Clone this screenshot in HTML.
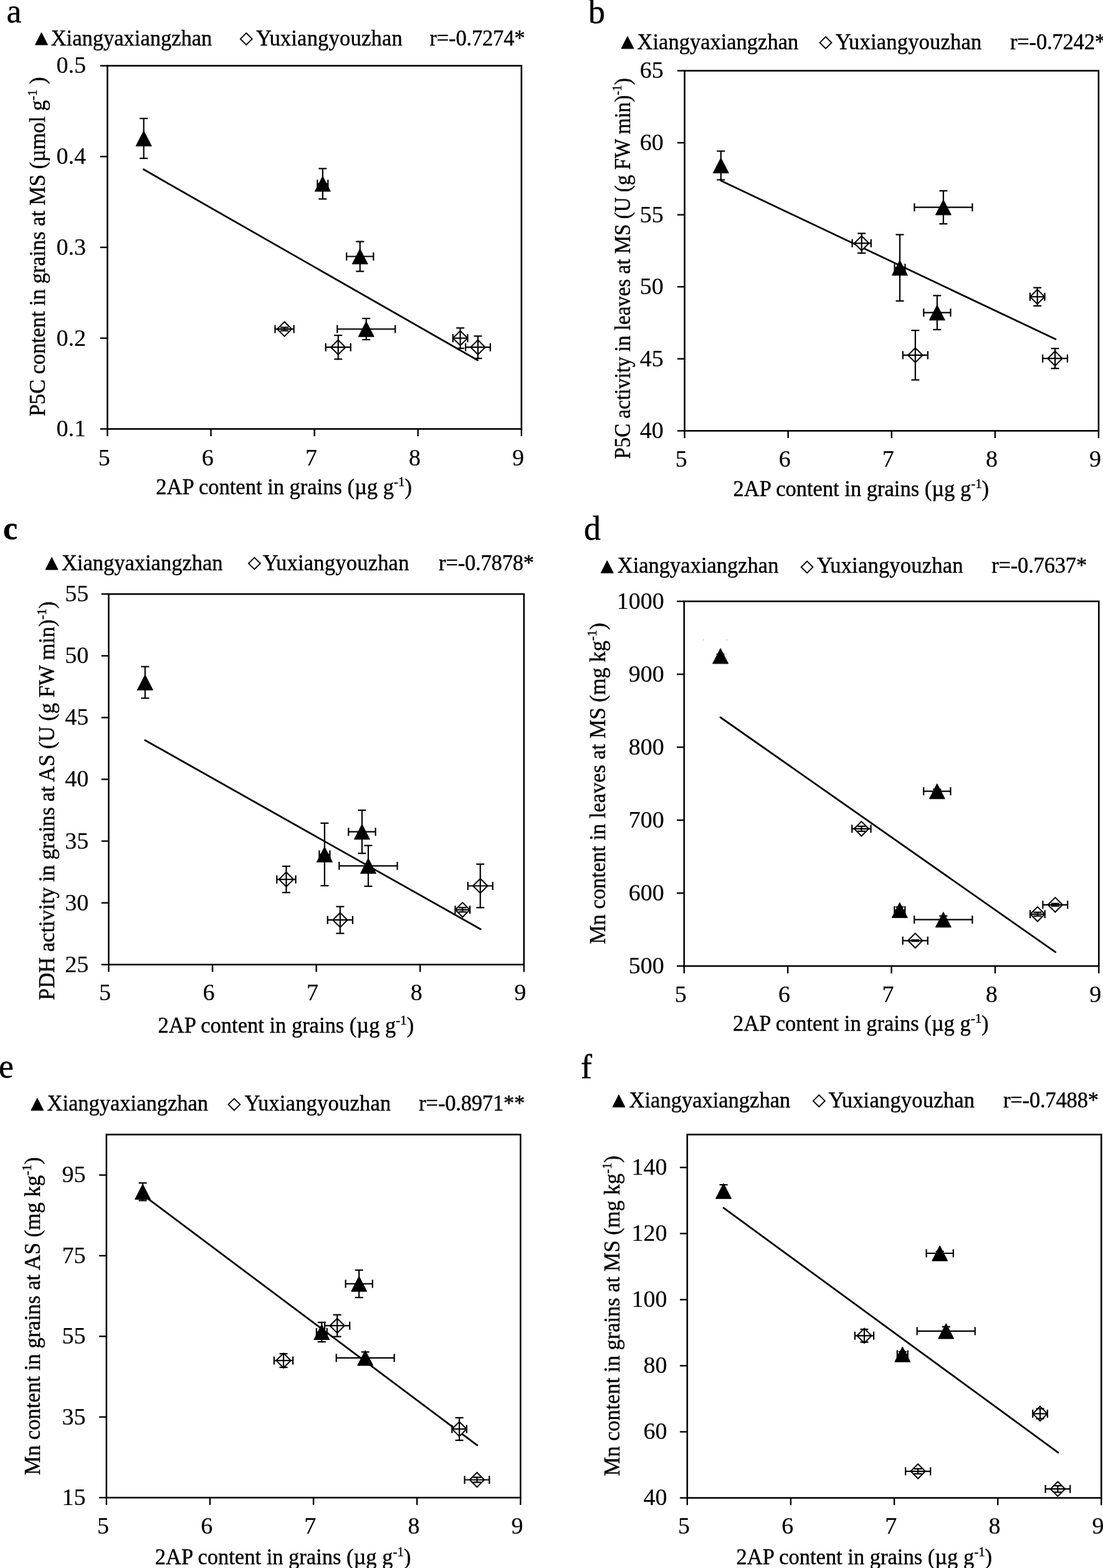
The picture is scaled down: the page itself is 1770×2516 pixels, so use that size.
<!DOCTYPE html>
<html lang="en">
<head>
<meta charset="utf-8">
<title>Correlation of 2AP content in grains with P5C, PDH and Mn</title>
<style>
html, body { margin: 0; padding: 0; background: #ffffff; }
body { width: 1770px; height: 2516px; overflow: hidden; }
svg { display: block; }
svg text { font-family: 'Liberation Serif', 'DejaVu Serif', serif; fill: #000; stroke: #000; stroke-width: 0.45px; stroke-linejoin: round; }
svg text.tk { stroke-width: 0.2px; }
svg line { stroke: #000; }
svg .frame { fill: none; stroke: #000; }
svg .tri { fill: #000; stroke: #000; stroke-width: 1; stroke-linejoin: round; }
svg .dia { fill: #fff; stroke: #000; stroke-linejoin: miter; }
</style>
</head>
<body>
<svg width="1770" height="2516" viewBox="0 0 1770 2516" role="img" aria-label="Relationships between grain 2AP content and P5C, PDH and Mn">
<g id="panel-a">
<rect class="frame" x="172.4" y="105.5" width="664.4" height="582.8" stroke-width="2.6"/>
<line x1="160.7" y1="105.5" x2="172.4" y2="105.5" stroke-width="2.4" stroke-linecap="butt"/>
<text x="138" y="117.4" font-size="38" text-anchor="end" class="tk">0.5</text>
<line x1="160.7" y1="251.2" x2="172.4" y2="251.2" stroke-width="2.4" stroke-linecap="butt"/>
<text x="138" y="263.1" font-size="38" text-anchor="end" class="tk">0.4</text>
<line x1="160.7" y1="396.9" x2="172.4" y2="396.9" stroke-width="2.4" stroke-linecap="butt"/>
<text x="138" y="408.8" font-size="38" text-anchor="end" class="tk">0.3</text>
<line x1="160.7" y1="542.6" x2="172.4" y2="542.6" stroke-width="2.4" stroke-linecap="butt"/>
<text x="138" y="554.5" font-size="38" text-anchor="end" class="tk">0.2</text>
<line x1="160.7" y1="688.3" x2="172.4" y2="688.3" stroke-width="2.4" stroke-linecap="butt"/>
<text x="138" y="700.2" font-size="38" text-anchor="end" class="tk">0.1</text>
<line x1="172.4" y1="688.3" x2="172.4" y2="700" stroke-width="2.4" stroke-linecap="butt"/>
<text x="167.2" y="746.7" font-size="38" text-anchor="middle" class="tk">5</text>
<line x1="338.5" y1="688.3" x2="338.5" y2="700" stroke-width="2.4" stroke-linecap="butt"/>
<text x="333.3" y="746.7" font-size="38" text-anchor="middle" class="tk">6</text>
<line x1="504.6" y1="688.3" x2="504.6" y2="700" stroke-width="2.4" stroke-linecap="butt"/>
<text x="499.4" y="746.7" font-size="38" text-anchor="middle" class="tk">7</text>
<line x1="670.7" y1="688.3" x2="670.7" y2="700" stroke-width="2.4" stroke-linecap="butt"/>
<text x="665.5" y="746.7" font-size="38" text-anchor="middle" class="tk">8</text>
<line x1="836.8" y1="688.3" x2="836.8" y2="700" stroke-width="2.4" stroke-linecap="butt"/>
<text x="831.6" y="746.7" font-size="38" text-anchor="middle" class="tk">9</text>
<text transform="translate(250.3 793) scale(0.9691 1)" font-size="35.6" xml:space="preserve">2AP content in grains (µg g<tspan font-size="21.6" dy="-13.4">-1</tspan><tspan dy="13.4">)</tspan></text>
<text transform="translate(72.4 668) rotate(-90) scale(0.9645 1)" font-size="35.6" xml:space="preserve">P5C content in grains at MS (µmol g<tspan font-size="21.6" dy="-13.4">-1</tspan><tspan dy="13.4"> )</tspan></text>
<line x1="230.4" y1="271.8" x2="766.5" y2="578" stroke-width="2.8" stroke-linecap="round"/>
<polygon class="dia" stroke-width="2" points="456.51,516.3 468.21,528 456.51,539.7 444.81,528"/>
<line x1="456.51" y1="525.3" x2="456.51" y2="530.7" stroke-width="2.2" stroke-linecap="butt"/>
<line x1="450.01" y1="525.3" x2="463.01" y2="525.3" stroke-width="2.2" stroke-linecap="butt"/>
<line x1="450.01" y1="530.7" x2="463.01" y2="530.7" stroke-width="2.2" stroke-linecap="butt"/>
<line x1="441.4" y1="528" x2="471.63" y2="528" stroke-width="2.2" stroke-linecap="butt"/>
<line x1="441.4" y1="521.5" x2="441.4" y2="534.5" stroke-width="2.2" stroke-linecap="butt"/>
<line x1="471.63" y1="521.5" x2="471.63" y2="534.5" stroke-width="2.2" stroke-linecap="butt"/>
<polygon class="dia" stroke-width="2" points="542.69,545.5 554.39,557.2 542.69,568.9 530.99,557.2"/>
<line x1="542.69" y1="538.1" x2="542.69" y2="576.3" stroke-width="2.2" stroke-linecap="butt"/>
<line x1="536.19" y1="538.1" x2="549.19" y2="538.1" stroke-width="2.2" stroke-linecap="butt"/>
<line x1="536.19" y1="576.3" x2="549.19" y2="576.3" stroke-width="2.2" stroke-linecap="butt"/>
<line x1="522.67" y1="557.2" x2="562.7" y2="557.2" stroke-width="2.2" stroke-linecap="butt"/>
<line x1="522.67" y1="550.7" x2="522.67" y2="563.7" stroke-width="2.2" stroke-linecap="butt"/>
<line x1="562.7" y1="550.7" x2="562.7" y2="563.7" stroke-width="2.2" stroke-linecap="butt"/>
<polygon class="dia" stroke-width="2" points="738.59,530.9 750.29,542.6 738.59,554.3 726.89,542.6"/>
<line x1="738.59" y1="526.3" x2="738.59" y2="558.9" stroke-width="2.2" stroke-linecap="butt"/>
<line x1="732.09" y1="526.3" x2="745.09" y2="526.3" stroke-width="2.2" stroke-linecap="butt"/>
<line x1="732.09" y1="558.9" x2="745.09" y2="558.9" stroke-width="2.2" stroke-linecap="butt"/>
<line x1="726.79" y1="542.6" x2="750.38" y2="542.6" stroke-width="2.2" stroke-linecap="butt"/>
<line x1="726.79" y1="536.1" x2="726.79" y2="549.1" stroke-width="2.2" stroke-linecap="butt"/>
<line x1="750.38" y1="536.1" x2="750.38" y2="549.1" stroke-width="2.2" stroke-linecap="butt"/>
<polygon class="dia" stroke-width="2" points="766.94,545.5 778.64,557.2 766.94,568.9 755.24,557.2"/>
<line x1="766.94" y1="539.3" x2="766.94" y2="575.1" stroke-width="2.2" stroke-linecap="butt"/>
<line x1="760.44" y1="539.3" x2="773.44" y2="539.3" stroke-width="2.2" stroke-linecap="butt"/>
<line x1="760.44" y1="575.1" x2="773.44" y2="575.1" stroke-width="2.2" stroke-linecap="butt"/>
<line x1="747.09" y1="557.2" x2="786.79" y2="557.2" stroke-width="2.2" stroke-linecap="butt"/>
<line x1="747.09" y1="550.7" x2="747.09" y2="563.7" stroke-width="2.2" stroke-linecap="butt"/>
<line x1="786.79" y1="550.7" x2="786.79" y2="563.7" stroke-width="2.2" stroke-linecap="butt"/>
<line x1="230.65" y1="190.1" x2="230.65" y2="254.1" stroke-width="2.2" stroke-linecap="butt"/>
<line x1="224.15" y1="190.1" x2="237.15" y2="190.1" stroke-width="2.2" stroke-linecap="butt"/>
<line x1="224.15" y1="254.1" x2="237.15" y2="254.1" stroke-width="2.2" stroke-linecap="butt"/>
<polygon class="tri" points="230.65,209.95 243.15,234.25 218.15,234.25"/>
<line x1="517.82" y1="270.5" x2="517.82" y2="319.3" stroke-width="2.2" stroke-linecap="butt"/>
<line x1="511.32" y1="270.5" x2="524.32" y2="270.5" stroke-width="2.2" stroke-linecap="butt"/>
<line x1="511.32" y1="319.3" x2="524.32" y2="319.3" stroke-width="2.2" stroke-linecap="butt"/>
<line x1="509.35" y1="294.9" x2="526.29" y2="294.9" stroke-width="2.2" stroke-linecap="butt"/>
<line x1="509.35" y1="288.4" x2="509.35" y2="301.4" stroke-width="2.2" stroke-linecap="butt"/>
<line x1="526.29" y1="288.4" x2="526.29" y2="301.4" stroke-width="2.2" stroke-linecap="butt"/>
<polygon class="tri" points="517.82,282.75 530.32,307.05 505.32,307.05"/>
<line x1="577.7" y1="387.6" x2="577.7" y2="435.4" stroke-width="2.2" stroke-linecap="butt"/>
<line x1="571.2" y1="387.6" x2="584.2" y2="387.6" stroke-width="2.2" stroke-linecap="butt"/>
<line x1="571.2" y1="435.4" x2="584.2" y2="435.4" stroke-width="2.2" stroke-linecap="butt"/>
<line x1="556.11" y1="411.5" x2="599.29" y2="411.5" stroke-width="2.2" stroke-linecap="butt"/>
<line x1="556.11" y1="405" x2="556.11" y2="418" stroke-width="2.2" stroke-linecap="butt"/>
<line x1="599.29" y1="405" x2="599.29" y2="418" stroke-width="2.2" stroke-linecap="butt"/>
<polygon class="tri" points="577.7,399.35 590.2,423.65 565.2,423.65"/>
<line x1="587.7" y1="511" x2="587.7" y2="545" stroke-width="2.2" stroke-linecap="butt"/>
<line x1="581.2" y1="511" x2="594.2" y2="511" stroke-width="2.2" stroke-linecap="butt"/>
<line x1="581.2" y1="545" x2="594.2" y2="545" stroke-width="2.2" stroke-linecap="butt"/>
<line x1="541.19" y1="528" x2="634.21" y2="528" stroke-width="2.2" stroke-linecap="butt"/>
<line x1="541.19" y1="521.5" x2="541.19" y2="534.5" stroke-width="2.2" stroke-linecap="butt"/>
<line x1="634.21" y1="521.5" x2="634.21" y2="534.5" stroke-width="2.2" stroke-linecap="butt"/>
<polygon class="tri" points="587.7,515.85 600.2,540.15 575.2,540.15"/>
<polygon class="tri" points="66.5,52.25 76.45,71.95 56.55,71.95"/>
<text transform="translate(81.7 73.3) scale(0.9691 1)" font-size="35.6" text-anchor="start">Xiangyaxiangzhan</text>
<polygon class="dia" stroke-width="1.9" points="395.2,53 404.6,62.4 395.2,71.8 385.8,62.4"/>
<text transform="translate(411.1 73.3) scale(0.9691 1)" font-size="35.6" text-anchor="start" letter-spacing="0.22">Yuxiangyouzhan</text>
<text transform="translate(689.5 73.3) scale(0.9691 1)" font-size="35.6" text-anchor="start" letter-spacing="-0.18">r=-0.7274*</text>
<text x="10.5" y="36.2" font-size="54" text-anchor="start" stroke-width="0.3">a</text>
</g>
<g id="panel-b">
<rect class="frame" x="1098.6" y="113.5" width="664.3" height="577.8" stroke-width="2.6"/>
<line x1="1086.9" y1="113.5" x2="1098.6" y2="113.5" stroke-width="2.4" stroke-linecap="butt"/>
<text x="1064.8" y="125.4" font-size="38" text-anchor="end" class="tk">65</text>
<line x1="1086.9" y1="229.06" x2="1098.6" y2="229.06" stroke-width="2.4" stroke-linecap="butt"/>
<text x="1064.8" y="240.96" font-size="38" text-anchor="end" class="tk">60</text>
<line x1="1086.9" y1="344.62" x2="1098.6" y2="344.62" stroke-width="2.4" stroke-linecap="butt"/>
<text x="1064.8" y="356.52" font-size="38" text-anchor="end" class="tk">55</text>
<line x1="1086.9" y1="460.18" x2="1098.6" y2="460.18" stroke-width="2.4" stroke-linecap="butt"/>
<text x="1064.8" y="472.08" font-size="38" text-anchor="end" class="tk">50</text>
<line x1="1086.9" y1="575.74" x2="1098.6" y2="575.74" stroke-width="2.4" stroke-linecap="butt"/>
<text x="1064.8" y="587.64" font-size="38" text-anchor="end" class="tk">45</text>
<line x1="1086.9" y1="691.3" x2="1098.6" y2="691.3" stroke-width="2.4" stroke-linecap="butt"/>
<text x="1064.8" y="703.2" font-size="38" text-anchor="end" class="tk">40</text>
<line x1="1098.6" y1="691.3" x2="1098.6" y2="703" stroke-width="2.4" stroke-linecap="butt"/>
<text x="1093.2" y="748.5" font-size="38" text-anchor="middle" class="tk">5</text>
<line x1="1264.67" y1="691.3" x2="1264.67" y2="703" stroke-width="2.4" stroke-linecap="butt"/>
<text x="1259.27" y="748.5" font-size="38" text-anchor="middle" class="tk">6</text>
<line x1="1430.75" y1="691.3" x2="1430.75" y2="703" stroke-width="2.4" stroke-linecap="butt"/>
<text x="1425.35" y="748.5" font-size="38" text-anchor="middle" class="tk">7</text>
<line x1="1596.83" y1="691.3" x2="1596.83" y2="703" stroke-width="2.4" stroke-linecap="butt"/>
<text x="1591.42" y="748.5" font-size="38" text-anchor="middle" class="tk">8</text>
<line x1="1762.9" y1="691.3" x2="1762.9" y2="703" stroke-width="2.4" stroke-linecap="butt"/>
<text x="1757.5" y="748.5" font-size="38" text-anchor="middle" class="tk">9</text>
<text transform="translate(1176.5 796.2) scale(0.9691 1)" font-size="35.6" xml:space="preserve">2AP content in grains (µg g<tspan font-size="21.6" dy="-13.4">-1</tspan><tspan dy="13.4">)</tspan></text>
<text transform="translate(1010.5 736.6) rotate(-90) scale(0.9282 1)" font-size="35.6" xml:space="preserve">P5C activity in leaves at MS (U (g FW min)<tspan font-size="21.6" dy="-13.4">-1</tspan><tspan dy="13.4">)</tspan></text>
<line x1="1157" y1="290" x2="1693.9" y2="544.3" stroke-width="2.8" stroke-linecap="round"/>
<polygon class="dia" stroke-width="2" points="1382.67,378.6 1394.37,390.3 1382.67,402 1370.97,390.3"/>
<line x1="1382.67" y1="374.5" x2="1382.67" y2="406.1" stroke-width="2.2" stroke-linecap="butt"/>
<line x1="1376.17" y1="374.5" x2="1389.17" y2="374.5" stroke-width="2.2" stroke-linecap="butt"/>
<line x1="1376.17" y1="406.1" x2="1389.17" y2="406.1" stroke-width="2.2" stroke-linecap="butt"/>
<line x1="1367.56" y1="390.3" x2="1397.78" y2="390.3" stroke-width="2.2" stroke-linecap="butt"/>
<line x1="1367.56" y1="383.8" x2="1367.56" y2="396.8" stroke-width="2.2" stroke-linecap="butt"/>
<line x1="1397.78" y1="383.8" x2="1397.78" y2="396.8" stroke-width="2.2" stroke-linecap="butt"/>
<polygon class="dia" stroke-width="2" points="1468.83,558.2 1480.53,569.9 1468.83,581.6 1457.13,569.9"/>
<line x1="1468.83" y1="530.2" x2="1468.83" y2="609.6" stroke-width="2.2" stroke-linecap="butt"/>
<line x1="1462.33" y1="530.2" x2="1475.33" y2="530.2" stroke-width="2.2" stroke-linecap="butt"/>
<line x1="1462.33" y1="609.6" x2="1475.33" y2="609.6" stroke-width="2.2" stroke-linecap="butt"/>
<line x1="1448.82" y1="569.9" x2="1488.84" y2="569.9" stroke-width="2.2" stroke-linecap="butt"/>
<line x1="1448.82" y1="563.4" x2="1448.82" y2="576.4" stroke-width="2.2" stroke-linecap="butt"/>
<line x1="1488.84" y1="563.4" x2="1488.84" y2="576.4" stroke-width="2.2" stroke-linecap="butt"/>
<polygon class="dia" stroke-width="2" points="1664.7,464.5 1676.4,476.2 1664.7,487.9 1653,476.2"/>
<line x1="1664.7" y1="461.6" x2="1664.7" y2="490.8" stroke-width="2.2" stroke-linecap="butt"/>
<line x1="1658.2" y1="461.6" x2="1671.2" y2="461.6" stroke-width="2.2" stroke-linecap="butt"/>
<line x1="1658.2" y1="490.8" x2="1671.2" y2="490.8" stroke-width="2.2" stroke-linecap="butt"/>
<line x1="1652.91" y1="476.2" x2="1676.49" y2="476.2" stroke-width="2.2" stroke-linecap="butt"/>
<line x1="1652.91" y1="469.7" x2="1652.91" y2="482.7" stroke-width="2.2" stroke-linecap="butt"/>
<line x1="1676.49" y1="469.7" x2="1676.49" y2="482.7" stroke-width="2.2" stroke-linecap="butt"/>
<polygon class="dia" stroke-width="2" points="1693.05,563.5 1704.75,575.2 1693.05,586.9 1681.35,575.2"/>
<line x1="1693.05" y1="559.2" x2="1693.05" y2="591.2" stroke-width="2.2" stroke-linecap="butt"/>
<line x1="1686.55" y1="559.2" x2="1699.55" y2="559.2" stroke-width="2.2" stroke-linecap="butt"/>
<line x1="1686.55" y1="591.2" x2="1699.55" y2="591.2" stroke-width="2.2" stroke-linecap="butt"/>
<line x1="1673.2" y1="575.2" x2="1712.89" y2="575.2" stroke-width="2.2" stroke-linecap="butt"/>
<line x1="1673.2" y1="568.7" x2="1673.2" y2="581.7" stroke-width="2.2" stroke-linecap="butt"/>
<line x1="1712.89" y1="568.7" x2="1712.89" y2="581.7" stroke-width="2.2" stroke-linecap="butt"/>
<line x1="1156.84" y1="242.5" x2="1156.84" y2="288.5" stroke-width="2.2" stroke-linecap="butt"/>
<line x1="1150.34" y1="242.5" x2="1163.34" y2="242.5" stroke-width="2.2" stroke-linecap="butt"/>
<line x1="1150.34" y1="288.5" x2="1163.34" y2="288.5" stroke-width="2.2" stroke-linecap="butt"/>
<polygon class="tri" points="1156.84,253.35 1169.34,277.65 1144.34,277.65"/>
<line x1="1443.97" y1="376.5" x2="1443.97" y2="482.9" stroke-width="2.2" stroke-linecap="butt"/>
<line x1="1437.47" y1="376.5" x2="1450.47" y2="376.5" stroke-width="2.2" stroke-linecap="butt"/>
<line x1="1437.47" y1="482.9" x2="1450.47" y2="482.9" stroke-width="2.2" stroke-linecap="butt"/>
<line x1="1435.5" y1="429.7" x2="1452.44" y2="429.7" stroke-width="2.2" stroke-linecap="butt"/>
<line x1="1435.5" y1="423.2" x2="1435.5" y2="436.2" stroke-width="2.2" stroke-linecap="butt"/>
<line x1="1452.44" y1="423.2" x2="1452.44" y2="436.2" stroke-width="2.2" stroke-linecap="butt"/>
<polygon class="tri" points="1443.97,417.55 1456.47,441.85 1431.47,441.85"/>
<line x1="1503.84" y1="474.3" x2="1503.84" y2="528.9" stroke-width="2.2" stroke-linecap="butt"/>
<line x1="1497.34" y1="474.3" x2="1510.34" y2="474.3" stroke-width="2.2" stroke-linecap="butt"/>
<line x1="1497.34" y1="528.9" x2="1510.34" y2="528.9" stroke-width="2.2" stroke-linecap="butt"/>
<line x1="1482.25" y1="501.6" x2="1525.43" y2="501.6" stroke-width="2.2" stroke-linecap="butt"/>
<line x1="1482.25" y1="495.1" x2="1482.25" y2="508.1" stroke-width="2.2" stroke-linecap="butt"/>
<line x1="1525.43" y1="495.1" x2="1525.43" y2="508.1" stroke-width="2.2" stroke-linecap="butt"/>
<polygon class="tri" points="1503.84,489.45 1516.34,513.75 1491.34,513.75"/>
<line x1="1513.84" y1="306.2" x2="1513.84" y2="359.2" stroke-width="2.2" stroke-linecap="butt"/>
<line x1="1507.34" y1="306.2" x2="1520.34" y2="306.2" stroke-width="2.2" stroke-linecap="butt"/>
<line x1="1507.34" y1="359.2" x2="1520.34" y2="359.2" stroke-width="2.2" stroke-linecap="butt"/>
<line x1="1467.34" y1="332.7" x2="1560.34" y2="332.7" stroke-width="2.2" stroke-linecap="butt"/>
<line x1="1467.34" y1="326.2" x2="1467.34" y2="339.2" stroke-width="2.2" stroke-linecap="butt"/>
<line x1="1560.34" y1="326.2" x2="1560.34" y2="339.2" stroke-width="2.2" stroke-linecap="butt"/>
<polygon class="tri" points="1513.84,320.55 1526.34,344.85 1501.34,344.85"/>
<polygon class="tri" points="1007,58.25 1016.95,77.95 997.05,77.95"/>
<text transform="translate(1022.6 78.8) scale(0.9691 1)" font-size="35.6" text-anchor="start">Xiangyaxiangzhan</text>
<polygon class="dia" stroke-width="1.9" points="1325,59 1334.4,68.4 1325,77.8 1315.6,68.4"/>
<text transform="translate(1340.7 78.8) scale(0.9691 1)" font-size="35.6" text-anchor="start" letter-spacing="0.22">Yuxiangyouzhan</text>
<text transform="translate(1621 78.8) scale(0.9691 1)" font-size="35.6" text-anchor="start" letter-spacing="-0.18">r=-0.7242*</text>
<text x="944" y="36.5" font-size="54" text-anchor="start" stroke-width="0.3">b</text>
</g>
<g id="panel-c">
<rect class="frame" x="174.4" y="953.2" width="666.4" height="594.6" stroke-width="2.6"/>
<line x1="162.7" y1="953.2" x2="174.4" y2="953.2" stroke-width="2.4" stroke-linecap="butt"/>
<text x="142.2" y="965.1" font-size="38" text-anchor="end" class="tk">55</text>
<line x1="162.7" y1="1052.3" x2="174.4" y2="1052.3" stroke-width="2.4" stroke-linecap="butt"/>
<text x="142.2" y="1064.2" font-size="38" text-anchor="end" class="tk">50</text>
<line x1="162.7" y1="1151.4" x2="174.4" y2="1151.4" stroke-width="2.4" stroke-linecap="butt"/>
<text x="142.2" y="1163.3" font-size="38" text-anchor="end" class="tk">45</text>
<line x1="162.7" y1="1250.5" x2="174.4" y2="1250.5" stroke-width="2.4" stroke-linecap="butt"/>
<text x="142.2" y="1262.4" font-size="38" text-anchor="end" class="tk">40</text>
<line x1="162.7" y1="1349.6" x2="174.4" y2="1349.6" stroke-width="2.4" stroke-linecap="butt"/>
<text x="142.2" y="1361.5" font-size="38" text-anchor="end" class="tk">35</text>
<line x1="162.7" y1="1448.7" x2="174.4" y2="1448.7" stroke-width="2.4" stroke-linecap="butt"/>
<text x="142.2" y="1460.6" font-size="38" text-anchor="end" class="tk">30</text>
<line x1="162.7" y1="1547.8" x2="174.4" y2="1547.8" stroke-width="2.4" stroke-linecap="butt"/>
<text x="142.2" y="1559.7" font-size="38" text-anchor="end" class="tk">25</text>
<line x1="174.4" y1="1547.8" x2="174.4" y2="1559.5" stroke-width="2.4" stroke-linecap="butt"/>
<text x="168.4" y="1604.9" font-size="38" text-anchor="middle" class="tk">5</text>
<line x1="341" y1="1547.8" x2="341" y2="1559.5" stroke-width="2.4" stroke-linecap="butt"/>
<text x="335" y="1604.9" font-size="38" text-anchor="middle" class="tk">6</text>
<line x1="507.6" y1="1547.8" x2="507.6" y2="1559.5" stroke-width="2.4" stroke-linecap="butt"/>
<text x="501.6" y="1604.9" font-size="38" text-anchor="middle" class="tk">7</text>
<line x1="674.2" y1="1547.8" x2="674.2" y2="1559.5" stroke-width="2.4" stroke-linecap="butt"/>
<text x="668.2" y="1604.9" font-size="38" text-anchor="middle" class="tk">8</text>
<line x1="840.8" y1="1547.8" x2="840.8" y2="1559.5" stroke-width="2.4" stroke-linecap="butt"/>
<text x="834.8" y="1604.9" font-size="38" text-anchor="middle" class="tk">9</text>
<text transform="translate(253.6 1657.2) scale(0.9691 1)" font-size="35.6" xml:space="preserve">2AP content in grains (µg g<tspan font-size="21.6" dy="-13.4">-1</tspan><tspan dy="13.4">)</tspan></text>
<text transform="translate(87.3 1605.1) rotate(-90) scale(0.9717 1)" font-size="35.6" xml:space="preserve">PDH activity in grains at AS (U (g FW min)<tspan font-size="21.6" dy="-13.4">-1</tspan><tspan dy="13.4">)</tspan></text>
<line x1="232.7" y1="1187.7" x2="771.2" y2="1491" stroke-width="2.8" stroke-linecap="round"/>
<polygon class="dia" stroke-width="2" points="459.37,1399.4 471.07,1411.1 459.37,1422.8 447.67,1411.1"/>
<line x1="459.37" y1="1390" x2="459.37" y2="1432.2" stroke-width="2.2" stroke-linecap="butt"/>
<line x1="452.87" y1="1390" x2="465.87" y2="1390" stroke-width="2.2" stroke-linecap="butt"/>
<line x1="452.87" y1="1432.2" x2="465.87" y2="1432.2" stroke-width="2.2" stroke-linecap="butt"/>
<line x1="444.21" y1="1411.1" x2="474.53" y2="1411.1" stroke-width="2.2" stroke-linecap="butt"/>
<line x1="444.21" y1="1404.6" x2="444.21" y2="1417.6" stroke-width="2.2" stroke-linecap="butt"/>
<line x1="474.53" y1="1404.6" x2="474.53" y2="1417.6" stroke-width="2.2" stroke-linecap="butt"/>
<polygon class="dia" stroke-width="2" points="545.8,1464.5 557.5,1476.2 545.8,1487.9 534.1,1476.2"/>
<line x1="545.8" y1="1454.7" x2="545.8" y2="1497.7" stroke-width="2.2" stroke-linecap="butt"/>
<line x1="539.3" y1="1454.7" x2="552.3" y2="1454.7" stroke-width="2.2" stroke-linecap="butt"/>
<line x1="539.3" y1="1497.7" x2="552.3" y2="1497.7" stroke-width="2.2" stroke-linecap="butt"/>
<line x1="525.73" y1="1476.2" x2="565.88" y2="1476.2" stroke-width="2.2" stroke-linecap="butt"/>
<line x1="525.73" y1="1469.7" x2="525.73" y2="1482.7" stroke-width="2.2" stroke-linecap="butt"/>
<line x1="565.88" y1="1469.7" x2="565.88" y2="1482.7" stroke-width="2.2" stroke-linecap="butt"/>
<polygon class="dia" stroke-width="2" points="742.29,1448.1 753.99,1459.8 742.29,1471.5 730.59,1459.8"/>
<line x1="742.29" y1="1456.3" x2="742.29" y2="1463.3" stroke-width="2.2" stroke-linecap="butt"/>
<line x1="735.79" y1="1456.3" x2="748.79" y2="1456.3" stroke-width="2.2" stroke-linecap="butt"/>
<line x1="735.79" y1="1463.3" x2="748.79" y2="1463.3" stroke-width="2.2" stroke-linecap="butt"/>
<line x1="730.46" y1="1459.8" x2="754.12" y2="1459.8" stroke-width="2.2" stroke-linecap="butt"/>
<line x1="730.46" y1="1453.3" x2="730.46" y2="1466.3" stroke-width="2.2" stroke-linecap="butt"/>
<line x1="754.12" y1="1453.3" x2="754.12" y2="1466.3" stroke-width="2.2" stroke-linecap="butt"/>
<polygon class="dia" stroke-width="2" points="770.73,1409.8 782.43,1421.5 770.73,1433.2 759.03,1421.5"/>
<line x1="770.73" y1="1386.6" x2="770.73" y2="1456.4" stroke-width="2.2" stroke-linecap="butt"/>
<line x1="764.23" y1="1386.6" x2="777.23" y2="1386.6" stroke-width="2.2" stroke-linecap="butt"/>
<line x1="764.23" y1="1456.4" x2="777.23" y2="1456.4" stroke-width="2.2" stroke-linecap="butt"/>
<line x1="750.82" y1="1421.5" x2="790.64" y2="1421.5" stroke-width="2.2" stroke-linecap="butt"/>
<line x1="750.82" y1="1415" x2="750.82" y2="1428" stroke-width="2.2" stroke-linecap="butt"/>
<line x1="790.64" y1="1415" x2="790.64" y2="1428" stroke-width="2.2" stroke-linecap="butt"/>
<line x1="232.83" y1="1069.7" x2="232.83" y2="1120.3" stroke-width="2.2" stroke-linecap="butt"/>
<line x1="226.33" y1="1069.7" x2="239.33" y2="1069.7" stroke-width="2.2" stroke-linecap="butt"/>
<line x1="226.33" y1="1120.3" x2="239.33" y2="1120.3" stroke-width="2.2" stroke-linecap="butt"/>
<polygon class="tri" points="232.83,1082.85 245.33,1107.15 220.33,1107.15"/>
<line x1="520.86" y1="1320.8" x2="520.86" y2="1421.2" stroke-width="2.2" stroke-linecap="butt"/>
<line x1="514.36" y1="1320.8" x2="527.36" y2="1320.8" stroke-width="2.2" stroke-linecap="butt"/>
<line x1="514.36" y1="1421.2" x2="527.36" y2="1421.2" stroke-width="2.2" stroke-linecap="butt"/>
<line x1="512.36" y1="1371" x2="529.36" y2="1371" stroke-width="2.2" stroke-linecap="butt"/>
<line x1="512.36" y1="1364.5" x2="512.36" y2="1377.5" stroke-width="2.2" stroke-linecap="butt"/>
<line x1="529.36" y1="1364.5" x2="529.36" y2="1377.5" stroke-width="2.2" stroke-linecap="butt"/>
<polygon class="tri" points="520.86,1358.85 533.36,1383.15 508.36,1383.15"/>
<line x1="580.92" y1="1300.1" x2="580.92" y2="1369.3" stroke-width="2.2" stroke-linecap="butt"/>
<line x1="574.42" y1="1300.1" x2="587.42" y2="1300.1" stroke-width="2.2" stroke-linecap="butt"/>
<line x1="574.42" y1="1369.3" x2="587.42" y2="1369.3" stroke-width="2.2" stroke-linecap="butt"/>
<line x1="559.26" y1="1334.7" x2="602.58" y2="1334.7" stroke-width="2.2" stroke-linecap="butt"/>
<line x1="559.26" y1="1328.2" x2="559.26" y2="1341.2" stroke-width="2.2" stroke-linecap="butt"/>
<line x1="602.58" y1="1328.2" x2="602.58" y2="1341.2" stroke-width="2.2" stroke-linecap="butt"/>
<polygon class="tri" points="580.92,1322.55 593.42,1346.85 568.42,1346.85"/>
<line x1="590.95" y1="1356.7" x2="590.95" y2="1422.1" stroke-width="2.2" stroke-linecap="butt"/>
<line x1="584.45" y1="1356.7" x2="597.45" y2="1356.7" stroke-width="2.2" stroke-linecap="butt"/>
<line x1="584.45" y1="1422.1" x2="597.45" y2="1422.1" stroke-width="2.2" stroke-linecap="butt"/>
<line x1="544.3" y1="1389.4" x2="637.6" y2="1389.4" stroke-width="2.2" stroke-linecap="butt"/>
<line x1="544.3" y1="1382.9" x2="544.3" y2="1395.9" stroke-width="2.2" stroke-linecap="butt"/>
<line x1="637.6" y1="1382.9" x2="637.6" y2="1395.9" stroke-width="2.2" stroke-linecap="butt"/>
<polygon class="tri" points="590.95,1377.25 603.45,1401.55 578.45,1401.55"/>
<polygon class="tri" points="83.1,894.35 93.05,914.05 73.15,914.05"/>
<text transform="translate(98.9 914.5) scale(0.9691 1)" font-size="35.6" text-anchor="start">Xiangyaxiangzhan</text>
<polygon class="dia" stroke-width="1.9" points="408.3,894.7 417.7,904.1 408.3,913.5 398.9,904.1"/>
<text transform="translate(421.8 914.5) scale(0.9691 1)" font-size="35.6" text-anchor="start" letter-spacing="0.22">Yuxiangyouzhan</text>
<text transform="translate(704.1 914.5) scale(0.9691 1)" font-size="35.6" text-anchor="start" letter-spacing="-0.18">r=-0.7878*</text>
<text x="5" y="864.8" font-size="52" text-anchor="start" font-weight="bold" stroke-width="0.3">c</text>
</g>
<g id="panel-d">
<rect class="frame" x="1097.8" y="964.9" width="665.5" height="585.2" stroke-width="2.6"/>
<line x1="1086.1" y1="964.9" x2="1097.8" y2="964.9" stroke-width="2.4" stroke-linecap="butt"/>
<text x="1065.7" y="976.8" font-size="38" text-anchor="end" class="tk">1000</text>
<line x1="1086.1" y1="1081.94" x2="1097.8" y2="1081.94" stroke-width="2.4" stroke-linecap="butt"/>
<text x="1065.7" y="1093.84" font-size="38" text-anchor="end" class="tk">900</text>
<line x1="1086.1" y1="1198.98" x2="1097.8" y2="1198.98" stroke-width="2.4" stroke-linecap="butt"/>
<text x="1065.7" y="1210.88" font-size="38" text-anchor="end" class="tk">800</text>
<line x1="1086.1" y1="1316.02" x2="1097.8" y2="1316.02" stroke-width="2.4" stroke-linecap="butt"/>
<text x="1065.7" y="1327.92" font-size="38" text-anchor="end" class="tk">700</text>
<line x1="1086.1" y1="1433.06" x2="1097.8" y2="1433.06" stroke-width="2.4" stroke-linecap="butt"/>
<text x="1065.7" y="1444.96" font-size="38" text-anchor="end" class="tk">600</text>
<line x1="1086.1" y1="1550.1" x2="1097.8" y2="1550.1" stroke-width="2.4" stroke-linecap="butt"/>
<text x="1065.7" y="1562" font-size="38" text-anchor="end" class="tk">500</text>
<line x1="1097.8" y1="1550.1" x2="1097.8" y2="1561.8" stroke-width="2.4" stroke-linecap="butt"/>
<text x="1092.2" y="1607.9" font-size="38" text-anchor="middle" class="tk">5</text>
<line x1="1264.17" y1="1550.1" x2="1264.17" y2="1561.8" stroke-width="2.4" stroke-linecap="butt"/>
<text x="1258.58" y="1607.9" font-size="38" text-anchor="middle" class="tk">6</text>
<line x1="1430.55" y1="1550.1" x2="1430.55" y2="1561.8" stroke-width="2.4" stroke-linecap="butt"/>
<text x="1424.95" y="1607.9" font-size="38" text-anchor="middle" class="tk">7</text>
<line x1="1596.92" y1="1550.1" x2="1596.92" y2="1561.8" stroke-width="2.4" stroke-linecap="butt"/>
<text x="1591.33" y="1607.9" font-size="38" text-anchor="middle" class="tk">8</text>
<line x1="1763.3" y1="1550.1" x2="1763.3" y2="1561.8" stroke-width="2.4" stroke-linecap="butt"/>
<text x="1757.7" y="1607.9" font-size="38" text-anchor="middle" class="tk">9</text>
<text transform="translate(1176 1654.3) scale(0.9691 1)" font-size="35.6" xml:space="preserve">2AP content in grains (µg g<tspan font-size="21.6" dy="-13.4">-1</tspan><tspan dy="13.4">)</tspan></text>
<text transform="translate(970.8 1515) rotate(-90) scale(0.9679 1)" font-size="35.6" xml:space="preserve">Mn content in leaves at MS (mg kg<tspan font-size="21.6" dy="-13.4">-1</tspan><tspan dy="13.4">)</tspan></text>
<line x1="1156" y1="1151" x2="1693.6" y2="1527.7" stroke-width="2.8" stroke-linecap="round"/>
<polygon class="dia" stroke-width="2" points="1382.38,1318.1 1394.08,1329.8 1382.38,1341.5 1370.68,1329.8"/>
<line x1="1382.38" y1="1325.8" x2="1382.38" y2="1333.8" stroke-width="2.2" stroke-linecap="butt"/>
<line x1="1375.88" y1="1325.8" x2="1388.88" y2="1325.8" stroke-width="2.2" stroke-linecap="butt"/>
<line x1="1375.88" y1="1333.8" x2="1388.88" y2="1333.8" stroke-width="2.2" stroke-linecap="butt"/>
<line x1="1367.24" y1="1329.8" x2="1397.52" y2="1329.8" stroke-width="2.2" stroke-linecap="butt"/>
<line x1="1367.24" y1="1323.3" x2="1367.24" y2="1336.3" stroke-width="2.2" stroke-linecap="butt"/>
<line x1="1397.52" y1="1323.3" x2="1397.52" y2="1336.3" stroke-width="2.2" stroke-linecap="butt"/>
<polygon class="dia" stroke-width="2" points="1468.7,1497.6 1480.4,1509.3 1468.7,1521 1457,1509.3"/>
<line x1="1468.7" y1="1508.3" x2="1468.7" y2="1510.3" stroke-width="2.2" stroke-linecap="butt"/>
<line x1="1462.2" y1="1508.3" x2="1475.2" y2="1508.3" stroke-width="2.2" stroke-linecap="butt"/>
<line x1="1462.2" y1="1510.3" x2="1475.2" y2="1510.3" stroke-width="2.2" stroke-linecap="butt"/>
<line x1="1448.65" y1="1509.3" x2="1488.75" y2="1509.3" stroke-width="2.2" stroke-linecap="butt"/>
<line x1="1448.65" y1="1502.8" x2="1448.65" y2="1515.8" stroke-width="2.2" stroke-linecap="butt"/>
<line x1="1488.75" y1="1502.8" x2="1488.75" y2="1515.8" stroke-width="2.2" stroke-linecap="butt"/>
<polygon class="dia" stroke-width="2" points="1664.92,1455.1 1676.62,1466.8 1664.92,1478.5 1653.22,1466.8"/>
<line x1="1664.92" y1="1463.8" x2="1664.92" y2="1469.8" stroke-width="2.2" stroke-linecap="butt"/>
<line x1="1658.42" y1="1463.8" x2="1671.42" y2="1463.8" stroke-width="2.2" stroke-linecap="butt"/>
<line x1="1658.42" y1="1469.8" x2="1671.42" y2="1469.8" stroke-width="2.2" stroke-linecap="butt"/>
<line x1="1653.11" y1="1466.8" x2="1676.74" y2="1466.8" stroke-width="2.2" stroke-linecap="butt"/>
<line x1="1653.11" y1="1460.3" x2="1653.11" y2="1473.3" stroke-width="2.2" stroke-linecap="butt"/>
<line x1="1676.74" y1="1460.3" x2="1676.74" y2="1473.3" stroke-width="2.2" stroke-linecap="butt"/>
<polygon class="dia" stroke-width="2" points="1693.32,1440.1 1705.02,1451.8 1693.32,1463.5 1681.62,1451.8"/>
<line x1="1693.32" y1="1449.8" x2="1693.32" y2="1453.8" stroke-width="2.2" stroke-linecap="butt"/>
<line x1="1686.82" y1="1449.8" x2="1699.82" y2="1449.8" stroke-width="2.2" stroke-linecap="butt"/>
<line x1="1686.82" y1="1453.8" x2="1699.82" y2="1453.8" stroke-width="2.2" stroke-linecap="butt"/>
<line x1="1673.44" y1="1451.8" x2="1713.2" y2="1451.8" stroke-width="2.2" stroke-linecap="butt"/>
<line x1="1673.44" y1="1445.3" x2="1673.44" y2="1458.3" stroke-width="2.2" stroke-linecap="butt"/>
<line x1="1713.2" y1="1445.3" x2="1713.2" y2="1458.3" stroke-width="2.2" stroke-linecap="butt"/>
<line x1="1156.15" y1="1049.7" x2="1156.15" y2="1055.7" stroke-width="2.2" stroke-linecap="butt"/>
<line x1="1149.65" y1="1049.7" x2="1162.65" y2="1049.7" stroke-width="2.2" stroke-linecap="butt"/>
<line x1="1149.65" y1="1055.7" x2="1162.65" y2="1055.7" stroke-width="2.2" stroke-linecap="butt"/>
<polygon class="tri" points="1156.15,1040.55 1168.65,1064.85 1143.65,1064.85"/>
<line x1="1443.79" y1="1455.4" x2="1443.79" y2="1465.4" stroke-width="2.2" stroke-linecap="butt"/>
<line x1="1437.29" y1="1455.4" x2="1450.29" y2="1455.4" stroke-width="2.2" stroke-linecap="butt"/>
<line x1="1437.29" y1="1465.4" x2="1450.29" y2="1465.4" stroke-width="2.2" stroke-linecap="butt"/>
<line x1="1435.31" y1="1460.4" x2="1452.28" y2="1460.4" stroke-width="2.2" stroke-linecap="butt"/>
<line x1="1435.31" y1="1453.9" x2="1435.31" y2="1466.9" stroke-width="2.2" stroke-linecap="butt"/>
<line x1="1452.28" y1="1453.9" x2="1452.28" y2="1466.9" stroke-width="2.2" stroke-linecap="butt"/>
<polygon class="tri" points="1443.79,1448.25 1456.29,1472.55 1431.29,1472.55"/>
<line x1="1503.77" y1="1266.6" x2="1503.77" y2="1272.6" stroke-width="2.2" stroke-linecap="butt"/>
<line x1="1497.27" y1="1266.6" x2="1510.27" y2="1266.6" stroke-width="2.2" stroke-linecap="butt"/>
<line x1="1497.27" y1="1272.6" x2="1510.27" y2="1272.6" stroke-width="2.2" stroke-linecap="butt"/>
<line x1="1482.14" y1="1269.6" x2="1525.4" y2="1269.6" stroke-width="2.2" stroke-linecap="butt"/>
<line x1="1482.14" y1="1263.1" x2="1482.14" y2="1276.1" stroke-width="2.2" stroke-linecap="butt"/>
<line x1="1525.4" y1="1263.1" x2="1525.4" y2="1276.1" stroke-width="2.2" stroke-linecap="butt"/>
<polygon class="tri" points="1503.77,1257.45 1516.27,1281.75 1491.27,1281.75"/>
<line x1="1513.79" y1="1469.7" x2="1513.79" y2="1481.7" stroke-width="2.2" stroke-linecap="butt"/>
<line x1="1507.29" y1="1469.7" x2="1520.29" y2="1469.7" stroke-width="2.2" stroke-linecap="butt"/>
<line x1="1507.29" y1="1481.7" x2="1520.29" y2="1481.7" stroke-width="2.2" stroke-linecap="butt"/>
<line x1="1467.2" y1="1475.7" x2="1560.37" y2="1475.7" stroke-width="2.2" stroke-linecap="butt"/>
<line x1="1467.2" y1="1469.2" x2="1467.2" y2="1482.2" stroke-width="2.2" stroke-linecap="butt"/>
<line x1="1560.37" y1="1469.2" x2="1560.37" y2="1482.2" stroke-width="2.2" stroke-linecap="butt"/>
<polygon class="tri" points="1513.79,1463.55 1526.29,1487.85 1501.29,1487.85"/>
<polygon class="tri" points="974.3,899.65 984.25,919.35 964.35,919.35"/>
<text transform="translate(990.8 919.3) scale(0.9691 1)" font-size="35.6" text-anchor="start">Xiangyaxiangzhan</text>
<polygon class="dia" stroke-width="1.9" points="1295.1,900.6 1304.5,910 1295.1,919.4 1285.7,910"/>
<text transform="translate(1310.9 919.3) scale(0.9691 1)" font-size="35.6" text-anchor="start" letter-spacing="0.22">Yuxiangyouzhan</text>
<text transform="translate(1591.2 919.3) scale(0.9691 1)" font-size="35.6" text-anchor="start" letter-spacing="-0.18">r=-0.7637*</text>
<circle cx="1128.8" cy="1026.8" r="0.7" fill="#9a9a9a"/>
<circle cx="1166.5" cy="1026.8" r="0.7" fill="#9a9a9a"/>
<text x="937" y="865.5" font-size="54" text-anchor="start" stroke-width="0.3">d</text>
</g>
<g id="panel-e">
<rect class="frame" x="170.8" y="1820.5" width="664.5" height="582.6" stroke-width="2.6"/>
<line x1="159.1" y1="1885.5" x2="170.8" y2="1885.5" stroke-width="2.4" stroke-linecap="butt"/>
<text x="137.5" y="1897.4" font-size="38" text-anchor="end" class="tk">95</text>
<line x1="159.1" y1="2014.9" x2="170.8" y2="2014.9" stroke-width="2.4" stroke-linecap="butt"/>
<text x="137.5" y="2026.8" font-size="38" text-anchor="end" class="tk">75</text>
<line x1="159.1" y1="2144.3" x2="170.8" y2="2144.3" stroke-width="2.4" stroke-linecap="butt"/>
<text x="137.5" y="2156.2" font-size="38" text-anchor="end" class="tk">55</text>
<line x1="159.1" y1="2273.7" x2="170.8" y2="2273.7" stroke-width="2.4" stroke-linecap="butt"/>
<text x="137.5" y="2285.6" font-size="38" text-anchor="end" class="tk">35</text>
<line x1="159.1" y1="2403.1" x2="170.8" y2="2403.1" stroke-width="2.4" stroke-linecap="butt"/>
<text x="137.5" y="2415" font-size="38" text-anchor="end" class="tk">15</text>
<line x1="170.8" y1="2403.1" x2="170.8" y2="2414.8" stroke-width="2.4" stroke-linecap="butt"/>
<text x="165.6" y="2461.4" font-size="38" text-anchor="middle" class="tk">5</text>
<line x1="336.93" y1="2403.1" x2="336.93" y2="2414.8" stroke-width="2.4" stroke-linecap="butt"/>
<text x="331.73" y="2461.4" font-size="38" text-anchor="middle" class="tk">6</text>
<line x1="503.05" y1="2403.1" x2="503.05" y2="2414.8" stroke-width="2.4" stroke-linecap="butt"/>
<text x="497.85" y="2461.4" font-size="38" text-anchor="middle" class="tk">7</text>
<line x1="669.17" y1="2403.1" x2="669.17" y2="2414.8" stroke-width="2.4" stroke-linecap="butt"/>
<text x="663.97" y="2461.4" font-size="38" text-anchor="middle" class="tk">8</text>
<line x1="835.3" y1="2403.1" x2="835.3" y2="2414.8" stroke-width="2.4" stroke-linecap="butt"/>
<text x="830.1" y="2461.4" font-size="38" text-anchor="middle" class="tk">9</text>
<text transform="translate(248.8 2510.4) scale(0.9691 1)" font-size="35.6" xml:space="preserve">2AP content in grains (µg g<tspan font-size="21.6" dy="-13.4">-1</tspan><tspan dy="13.4">)</tspan></text>
<text transform="translate(63.7 2367.1) rotate(-90) scale(0.9756 1)" font-size="35.6" xml:space="preserve">Mn content in grains at AS (mg kg<tspan font-size="21.6" dy="-13.4">-1</tspan><tspan dy="13.4">)</tspan></text>
<line x1="229.1" y1="1917.2" x2="765.9" y2="2319.2" stroke-width="2.8" stroke-linecap="round"/>
<polygon class="dia" stroke-width="2" points="454.96,2171.4 466.66,2183.1 454.96,2194.8 443.26,2183.1"/>
<line x1="454.96" y1="2172.1" x2="454.96" y2="2194.1" stroke-width="2.2" stroke-linecap="butt"/>
<line x1="448.46" y1="2172.1" x2="461.46" y2="2172.1" stroke-width="2.2" stroke-linecap="butt"/>
<line x1="448.46" y1="2194.1" x2="461.46" y2="2194.1" stroke-width="2.2" stroke-linecap="butt"/>
<line x1="439.84" y1="2183.1" x2="470.07" y2="2183.1" stroke-width="2.2" stroke-linecap="butt"/>
<line x1="439.84" y1="2176.6" x2="439.84" y2="2189.6" stroke-width="2.2" stroke-linecap="butt"/>
<line x1="470.07" y1="2176.6" x2="470.07" y2="2189.6" stroke-width="2.2" stroke-linecap="butt"/>
<polygon class="dia" stroke-width="2" points="541.14,2115.5 552.84,2127.2 541.14,2138.9 529.44,2127.2"/>
<line x1="541.14" y1="2109.7" x2="541.14" y2="2144.7" stroke-width="2.2" stroke-linecap="butt"/>
<line x1="534.64" y1="2109.7" x2="547.64" y2="2109.7" stroke-width="2.2" stroke-linecap="butt"/>
<line x1="534.64" y1="2144.7" x2="547.64" y2="2144.7" stroke-width="2.2" stroke-linecap="butt"/>
<line x1="521.12" y1="2127.2" x2="561.16" y2="2127.2" stroke-width="2.2" stroke-linecap="butt"/>
<line x1="521.12" y1="2120.7" x2="521.12" y2="2133.7" stroke-width="2.2" stroke-linecap="butt"/>
<line x1="561.16" y1="2120.7" x2="561.16" y2="2133.7" stroke-width="2.2" stroke-linecap="butt"/>
<polygon class="dia" stroke-width="2" points="737.07,2281.3 748.77,2293 737.07,2304.7 725.37,2293"/>
<line x1="737.07" y1="2274.9" x2="737.07" y2="2311.1" stroke-width="2.2" stroke-linecap="butt"/>
<line x1="730.57" y1="2274.9" x2="743.57" y2="2274.9" stroke-width="2.2" stroke-linecap="butt"/>
<line x1="730.57" y1="2311.1" x2="743.57" y2="2311.1" stroke-width="2.2" stroke-linecap="butt"/>
<line x1="725.28" y1="2293" x2="748.87" y2="2293" stroke-width="2.2" stroke-linecap="butt"/>
<line x1="725.28" y1="2286.5" x2="725.28" y2="2299.5" stroke-width="2.2" stroke-linecap="butt"/>
<line x1="748.87" y1="2286.5" x2="748.87" y2="2299.5" stroke-width="2.2" stroke-linecap="butt"/>
<polygon class="dia" stroke-width="2" points="765.43,2362.8 777.13,2374.5 765.43,2386.2 753.73,2374.5"/>
<line x1="765.43" y1="2370.5" x2="765.43" y2="2378.5" stroke-width="2.2" stroke-linecap="butt"/>
<line x1="758.93" y1="2370.5" x2="771.93" y2="2370.5" stroke-width="2.2" stroke-linecap="butt"/>
<line x1="758.93" y1="2378.5" x2="771.93" y2="2378.5" stroke-width="2.2" stroke-linecap="butt"/>
<line x1="745.58" y1="2374.5" x2="785.28" y2="2374.5" stroke-width="2.2" stroke-linecap="butt"/>
<line x1="745.58" y1="2368" x2="745.58" y2="2381" stroke-width="2.2" stroke-linecap="butt"/>
<line x1="785.28" y1="2368" x2="785.28" y2="2381" stroke-width="2.2" stroke-linecap="butt"/>
<line x1="229.06" y1="1898.2" x2="229.06" y2="1926.4" stroke-width="2.2" stroke-linecap="butt"/>
<line x1="222.56" y1="1898.2" x2="235.56" y2="1898.2" stroke-width="2.2" stroke-linecap="butt"/>
<line x1="222.56" y1="1926.4" x2="235.56" y2="1926.4" stroke-width="2.2" stroke-linecap="butt"/>
<polygon class="tri" points="229.06,1900.15 241.56,1924.45 216.56,1924.45"/>
<line x1="516.27" y1="2121.9" x2="516.27" y2="2153.1" stroke-width="2.2" stroke-linecap="butt"/>
<line x1="509.77" y1="2121.9" x2="522.77" y2="2121.9" stroke-width="2.2" stroke-linecap="butt"/>
<line x1="509.77" y1="2153.1" x2="522.77" y2="2153.1" stroke-width="2.2" stroke-linecap="butt"/>
<line x1="507.8" y1="2137.5" x2="524.75" y2="2137.5" stroke-width="2.2" stroke-linecap="butt"/>
<line x1="507.8" y1="2131" x2="507.8" y2="2144" stroke-width="2.2" stroke-linecap="butt"/>
<line x1="524.75" y1="2131" x2="524.75" y2="2144" stroke-width="2.2" stroke-linecap="butt"/>
<polygon class="tri" points="516.27,2125.35 528.77,2149.65 503.77,2149.65"/>
<line x1="576.16" y1="2038" x2="576.16" y2="2082" stroke-width="2.2" stroke-linecap="butt"/>
<line x1="569.66" y1="2038" x2="582.66" y2="2038" stroke-width="2.2" stroke-linecap="butt"/>
<line x1="569.66" y1="2082" x2="582.66" y2="2082" stroke-width="2.2" stroke-linecap="butt"/>
<line x1="554.57" y1="2060" x2="597.76" y2="2060" stroke-width="2.2" stroke-linecap="butt"/>
<line x1="554.57" y1="2053.5" x2="554.57" y2="2066.5" stroke-width="2.2" stroke-linecap="butt"/>
<line x1="597.76" y1="2053.5" x2="597.76" y2="2066.5" stroke-width="2.2" stroke-linecap="butt"/>
<polygon class="tri" points="576.16,2047.85 588.66,2072.15 563.66,2072.15"/>
<line x1="586.16" y1="2169.4" x2="586.16" y2="2188.4" stroke-width="2.2" stroke-linecap="butt"/>
<line x1="579.66" y1="2169.4" x2="592.66" y2="2169.4" stroke-width="2.2" stroke-linecap="butt"/>
<line x1="579.66" y1="2188.4" x2="592.66" y2="2188.4" stroke-width="2.2" stroke-linecap="butt"/>
<line x1="539.65" y1="2178.9" x2="632.68" y2="2178.9" stroke-width="2.2" stroke-linecap="butt"/>
<line x1="539.65" y1="2172.4" x2="539.65" y2="2185.4" stroke-width="2.2" stroke-linecap="butt"/>
<line x1="632.68" y1="2172.4" x2="632.68" y2="2185.4" stroke-width="2.2" stroke-linecap="butt"/>
<polygon class="tri" points="586.16,2166.75 598.66,2191.05 573.66,2191.05"/>
<polygon class="tri" points="59.8,1762.05 69.75,1781.75 49.85,1781.75"/>
<text transform="translate(75.5 1782.3) scale(0.9691 1)" font-size="35.6" text-anchor="start">Xiangyaxiangzhan</text>
<polygon class="dia" stroke-width="1.9" points="375.8,1762.8 385.2,1772.2 375.8,1781.6 366.4,1772.2"/>
<text transform="translate(392.6 1782.3) scale(0.9691 1)" font-size="35.6" text-anchor="start" letter-spacing="0.22">Yuxiangyouzhan</text>
<text transform="translate(672.3 1782.3) scale(0.9691 1)" font-size="35.6" text-anchor="start" letter-spacing="-0.18">r=-0.8971**</text>
<text x="-2" y="1729" font-size="54" text-anchor="start" stroke-width="0.3">e</text>
</g>
<g id="panel-f">
<rect class="frame" x="1102.8" y="1820.5" width="664.5" height="583" stroke-width="2.6"/>
<line x1="1091.1" y1="1873.3" x2="1102.8" y2="1873.3" stroke-width="2.4" stroke-linecap="butt"/>
<text x="1070.6" y="1885.2" font-size="38" text-anchor="end" class="tk">140</text>
<line x1="1091.1" y1="1979.34" x2="1102.8" y2="1979.34" stroke-width="2.4" stroke-linecap="butt"/>
<text x="1070.6" y="1991.24" font-size="38" text-anchor="end" class="tk">120</text>
<line x1="1091.1" y1="2085.38" x2="1102.8" y2="2085.38" stroke-width="2.4" stroke-linecap="butt"/>
<text x="1070.6" y="2097.28" font-size="38" text-anchor="end" class="tk">100</text>
<line x1="1091.1" y1="2191.42" x2="1102.8" y2="2191.42" stroke-width="2.4" stroke-linecap="butt"/>
<text x="1070.6" y="2203.32" font-size="38" text-anchor="end" class="tk">80</text>
<line x1="1091.1" y1="2297.46" x2="1102.8" y2="2297.46" stroke-width="2.4" stroke-linecap="butt"/>
<text x="1070.6" y="2309.36" font-size="38" text-anchor="end" class="tk">60</text>
<line x1="1091.1" y1="2403.5" x2="1102.8" y2="2403.5" stroke-width="2.4" stroke-linecap="butt"/>
<text x="1070.6" y="2415.4" font-size="38" text-anchor="end" class="tk">40</text>
<line x1="1102.8" y1="2403.5" x2="1102.8" y2="2415.2" stroke-width="2.4" stroke-linecap="butt"/>
<text x="1097.6" y="2461.4" font-size="38" text-anchor="middle" class="tk">5</text>
<line x1="1268.92" y1="2403.5" x2="1268.92" y2="2415.2" stroke-width="2.4" stroke-linecap="butt"/>
<text x="1263.72" y="2461.4" font-size="38" text-anchor="middle" class="tk">6</text>
<line x1="1435.05" y1="2403.5" x2="1435.05" y2="2415.2" stroke-width="2.4" stroke-linecap="butt"/>
<text x="1429.85" y="2461.4" font-size="38" text-anchor="middle" class="tk">7</text>
<line x1="1601.17" y1="2403.5" x2="1601.17" y2="2415.2" stroke-width="2.4" stroke-linecap="butt"/>
<text x="1595.97" y="2461.4" font-size="38" text-anchor="middle" class="tk">8</text>
<line x1="1767.3" y1="2403.5" x2="1767.3" y2="2415.2" stroke-width="2.4" stroke-linecap="butt"/>
<text x="1762.1" y="2461.4" font-size="38" text-anchor="middle" class="tk">9</text>
<text transform="translate(1181.5 2510.4) scale(0.9691 1)" font-size="35.6" xml:space="preserve">2AP content in grains (µg g<tspan font-size="21.6" dy="-13.4">-1</tspan><tspan dy="13.4">)</tspan></text>
<text transform="translate(994.1 2368.5) rotate(-90) scale(0.9688 1)" font-size="35.6" xml:space="preserve">Mn content in grains at MS (mg kg<tspan font-size="21.6" dy="-13.4">-1</tspan><tspan dy="13.4">)</tspan></text>
<line x1="1161.1" y1="1938.2" x2="1698.1" y2="2330.8" stroke-width="2.8" stroke-linecap="round"/>
<polygon class="dia" stroke-width="2" points="1386.96,2131.6 1398.66,2143.3 1386.96,2155 1375.26,2143.3"/>
<line x1="1386.96" y1="2133" x2="1386.96" y2="2153.6" stroke-width="2.2" stroke-linecap="butt"/>
<line x1="1380.46" y1="2133" x2="1393.46" y2="2133" stroke-width="2.2" stroke-linecap="butt"/>
<line x1="1380.46" y1="2153.6" x2="1393.46" y2="2153.6" stroke-width="2.2" stroke-linecap="butt"/>
<line x1="1371.84" y1="2143.3" x2="1402.07" y2="2143.3" stroke-width="2.2" stroke-linecap="butt"/>
<line x1="1371.84" y1="2136.8" x2="1371.84" y2="2149.8" stroke-width="2.2" stroke-linecap="butt"/>
<line x1="1402.07" y1="2136.8" x2="1402.07" y2="2149.8" stroke-width="2.2" stroke-linecap="butt"/>
<polygon class="dia" stroke-width="2" points="1473.14,2349.1 1484.84,2360.8 1473.14,2372.5 1461.44,2360.8"/>
<line x1="1473.14" y1="2356.8" x2="1473.14" y2="2364.8" stroke-width="2.2" stroke-linecap="butt"/>
<line x1="1466.64" y1="2356.8" x2="1479.64" y2="2356.8" stroke-width="2.2" stroke-linecap="butt"/>
<line x1="1466.64" y1="2364.8" x2="1479.64" y2="2364.8" stroke-width="2.2" stroke-linecap="butt"/>
<line x1="1453.12" y1="2360.8" x2="1493.16" y2="2360.8" stroke-width="2.2" stroke-linecap="butt"/>
<line x1="1453.12" y1="2354.3" x2="1453.12" y2="2367.3" stroke-width="2.2" stroke-linecap="butt"/>
<line x1="1493.16" y1="2354.3" x2="1493.16" y2="2367.3" stroke-width="2.2" stroke-linecap="butt"/>
<polygon class="dia" stroke-width="2" points="1669.07,2256.7 1680.77,2268.4 1669.07,2280.1 1657.37,2268.4"/>
<line x1="1669.07" y1="2260.4" x2="1669.07" y2="2276.4" stroke-width="2.2" stroke-linecap="butt"/>
<line x1="1662.57" y1="2260.4" x2="1675.57" y2="2260.4" stroke-width="2.2" stroke-linecap="butt"/>
<line x1="1662.57" y1="2276.4" x2="1675.57" y2="2276.4" stroke-width="2.2" stroke-linecap="butt"/>
<line x1="1657.28" y1="2268.4" x2="1680.87" y2="2268.4" stroke-width="2.2" stroke-linecap="butt"/>
<line x1="1657.28" y1="2261.9" x2="1657.28" y2="2274.9" stroke-width="2.2" stroke-linecap="butt"/>
<line x1="1680.87" y1="2261.9" x2="1680.87" y2="2274.9" stroke-width="2.2" stroke-linecap="butt"/>
<polygon class="dia" stroke-width="2" points="1697.43,2377.5 1709.13,2389.2 1697.43,2400.9 1685.73,2389.2"/>
<line x1="1697.43" y1="2384" x2="1697.43" y2="2394.4" stroke-width="2.2" stroke-linecap="butt"/>
<line x1="1690.93" y1="2384" x2="1703.93" y2="2384" stroke-width="2.2" stroke-linecap="butt"/>
<line x1="1690.93" y1="2394.4" x2="1703.93" y2="2394.4" stroke-width="2.2" stroke-linecap="butt"/>
<line x1="1677.58" y1="2389.2" x2="1717.28" y2="2389.2" stroke-width="2.2" stroke-linecap="butt"/>
<line x1="1677.58" y1="2382.7" x2="1677.58" y2="2395.7" stroke-width="2.2" stroke-linecap="butt"/>
<line x1="1717.28" y1="2382.7" x2="1717.28" y2="2395.7" stroke-width="2.2" stroke-linecap="butt"/>
<line x1="1161.06" y1="1901.1" x2="1161.06" y2="1921.1" stroke-width="2.2" stroke-linecap="butt"/>
<line x1="1154.56" y1="1901.1" x2="1167.56" y2="1901.1" stroke-width="2.2" stroke-linecap="butt"/>
<line x1="1154.56" y1="1921.1" x2="1167.56" y2="1921.1" stroke-width="2.2" stroke-linecap="butt"/>
<polygon class="tri" points="1161.06,1898.95 1173.56,1923.25 1148.56,1923.25"/>
<line x1="1448.27" y1="2169.1" x2="1448.27" y2="2177.1" stroke-width="2.2" stroke-linecap="butt"/>
<line x1="1441.77" y1="2169.1" x2="1454.77" y2="2169.1" stroke-width="2.2" stroke-linecap="butt"/>
<line x1="1441.77" y1="2177.1" x2="1454.77" y2="2177.1" stroke-width="2.2" stroke-linecap="butt"/>
<line x1="1439.8" y1="2173.1" x2="1456.75" y2="2173.1" stroke-width="2.2" stroke-linecap="butt"/>
<line x1="1439.8" y1="2166.6" x2="1439.8" y2="2179.6" stroke-width="2.2" stroke-linecap="butt"/>
<line x1="1456.75" y1="2166.6" x2="1456.75" y2="2179.6" stroke-width="2.2" stroke-linecap="butt"/>
<polygon class="tri" points="1448.27,2160.95 1460.77,2185.25 1435.77,2185.25"/>
<line x1="1508.16" y1="2008" x2="1508.16" y2="2014" stroke-width="2.2" stroke-linecap="butt"/>
<line x1="1501.66" y1="2008" x2="1514.66" y2="2008" stroke-width="2.2" stroke-linecap="butt"/>
<line x1="1501.66" y1="2014" x2="1514.66" y2="2014" stroke-width="2.2" stroke-linecap="butt"/>
<line x1="1486.57" y1="2011" x2="1529.76" y2="2011" stroke-width="2.2" stroke-linecap="butt"/>
<line x1="1486.57" y1="2004.5" x2="1486.57" y2="2017.5" stroke-width="2.2" stroke-linecap="butt"/>
<line x1="1529.76" y1="2004.5" x2="1529.76" y2="2017.5" stroke-width="2.2" stroke-linecap="butt"/>
<polygon class="tri" points="1508.16,1998.85 1520.66,2023.15 1495.66,2023.15"/>
<line x1="1518.16" y1="2128.9" x2="1518.16" y2="2142.9" stroke-width="2.2" stroke-linecap="butt"/>
<line x1="1511.66" y1="2128.9" x2="1524.66" y2="2128.9" stroke-width="2.2" stroke-linecap="butt"/>
<line x1="1511.66" y1="2142.9" x2="1524.66" y2="2142.9" stroke-width="2.2" stroke-linecap="butt"/>
<line x1="1471.65" y1="2135.9" x2="1564.68" y2="2135.9" stroke-width="2.2" stroke-linecap="butt"/>
<line x1="1471.65" y1="2129.4" x2="1471.65" y2="2142.4" stroke-width="2.2" stroke-linecap="butt"/>
<line x1="1564.68" y1="2129.4" x2="1564.68" y2="2142.4" stroke-width="2.2" stroke-linecap="butt"/>
<polygon class="tri" points="1518.16,2123.75 1530.66,2148.05 1505.66,2148.05"/>
<polygon class="tri" points="993,1756.65 1002.95,1776.35 983.05,1776.35"/>
<text transform="translate(1009.6 1776.8) scale(0.9691 1)" font-size="35.6" text-anchor="start">Xiangyaxiangzhan</text>
<polygon class="dia" stroke-width="1.9" points="1314.3,1757 1323.7,1766.4 1314.3,1775.8 1304.9,1766.4"/>
<text transform="translate(1329.4 1776.8) scale(0.9691 1)" font-size="35.6" text-anchor="start" letter-spacing="0.22">Yuxiangyouzhan</text>
<text transform="translate(1610 1776.8) scale(0.9691 1)" font-size="35.6" text-anchor="start" letter-spacing="-0.18">r=-0.7488*</text>
<text x="932" y="1730.1" font-size="54" text-anchor="start" stroke-width="0.3">f</text>
</g>
</svg>
</body>
</html>
